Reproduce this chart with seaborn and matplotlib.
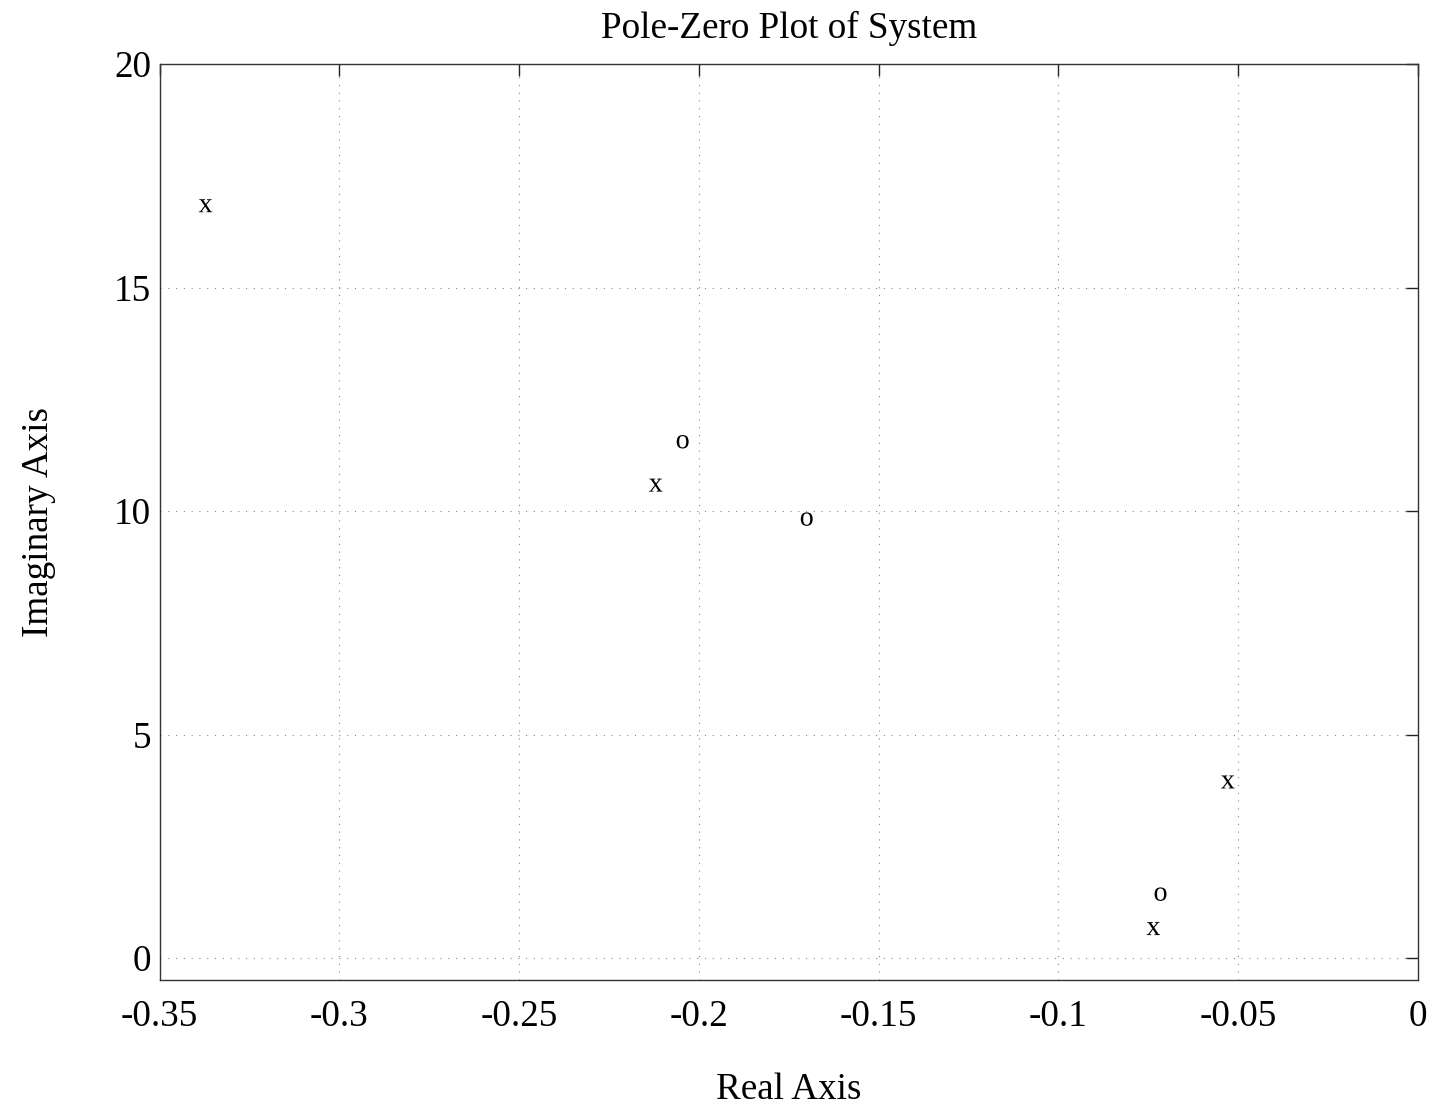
import matplotlib
matplotlib.use("Agg")
import matplotlib.pyplot as plt
import seaborn as sns
import pandas as pd

# Data
pole_re = [-0.3372, -0.2120, -0.0529, -0.0736]
pole_im = [16.83, 10.58, 3.94, 0.66]
zero_re = [-0.2045, -0.1700, -0.0716]
zero_im = [11.55, 9.82, 1.43]
x_ticks = [-0.35, -0.3, -0.25, -0.2, -0.15, -0.1, -0.05, 0]
x_tick_labels = ["-0.35", "-0.3", "-0.25", "-0.2", "-0.15", "-0.1", "-0.05", "0"]
y_ticks = [0, 5, 10, 15, 20]
y_tick_labels = ["0", "5", "10", "15", "20"]

sns.set_style("white")
plt.rcParams["font.family"] = ["Liberation Serif", "DejaVu Serif"]
plt.rcParams["mathtext.fontset"] = "custom"
plt.rcParams["mathtext.rm"] = "Liberation Serif"
plt.rcParams["text.color"] = "black"
plt.rcParams["axes.labelcolor"] = "black"

poles = pd.DataFrame({"re": pole_re, "im": pole_im})
zeros = pd.DataFrame({"re": zero_re, "im": zero_im})

fig = plt.figure(figsize=(14.34, 11.05), dpi=100)
ax = fig.add_axes([159.5 / 1434, 1 - 980 / 1105, (1418 - 159.5) / 1434, (980 - 64) / 1105])

sns.scatterplot(data=poles, x="re", y="im", marker=r"$\mathrm{x}$", s=95,
                color="black", edgecolor="none", linewidth=0, ax=ax, zorder=3)
sns.scatterplot(data=zeros, x="re", y="im", marker=r"$\mathrm{o}$", s=95,
                color="black", edgecolor="none", linewidth=0, ax=ax, zorder=3)

ax.set_xlim(-0.35, 0)
ax.set_ylim(-0.49, 20)
ax.set_xticks(x_ticks)
ax.set_xticklabels(x_tick_labels)
ax.set_yticks(y_ticks)
ax.set_yticklabels(y_tick_labels)

ax.grid(True, linestyle=(0, (1, 6)), color="#888888", linewidth=0.8)
ax.tick_params(direction="in", length=8.5, width=1, color="#222222",
               top=True, right=True, labelsize=26.7, labelcolor="black")
ax.tick_params(axis="x", pad=14)
ax.tick_params(axis="y", pad=6)
for sp in ax.spines.values():
    sp.set_visible(True)
    sp.set_color("#333333")
    sp.set_linewidth(1.0)

ax.set_title("Pole-Zero Plot of System", fontsize=26.7, pad=18.5, color="black")
ax.set_xlabel("Real Axis", fontsize=26.7, labelpad=28, color="black")
ax.set_ylabel("Imaginary Axis", fontsize=26.7, labelpad=42, color="black")

fig.savefig("out.png", dpi=100)
